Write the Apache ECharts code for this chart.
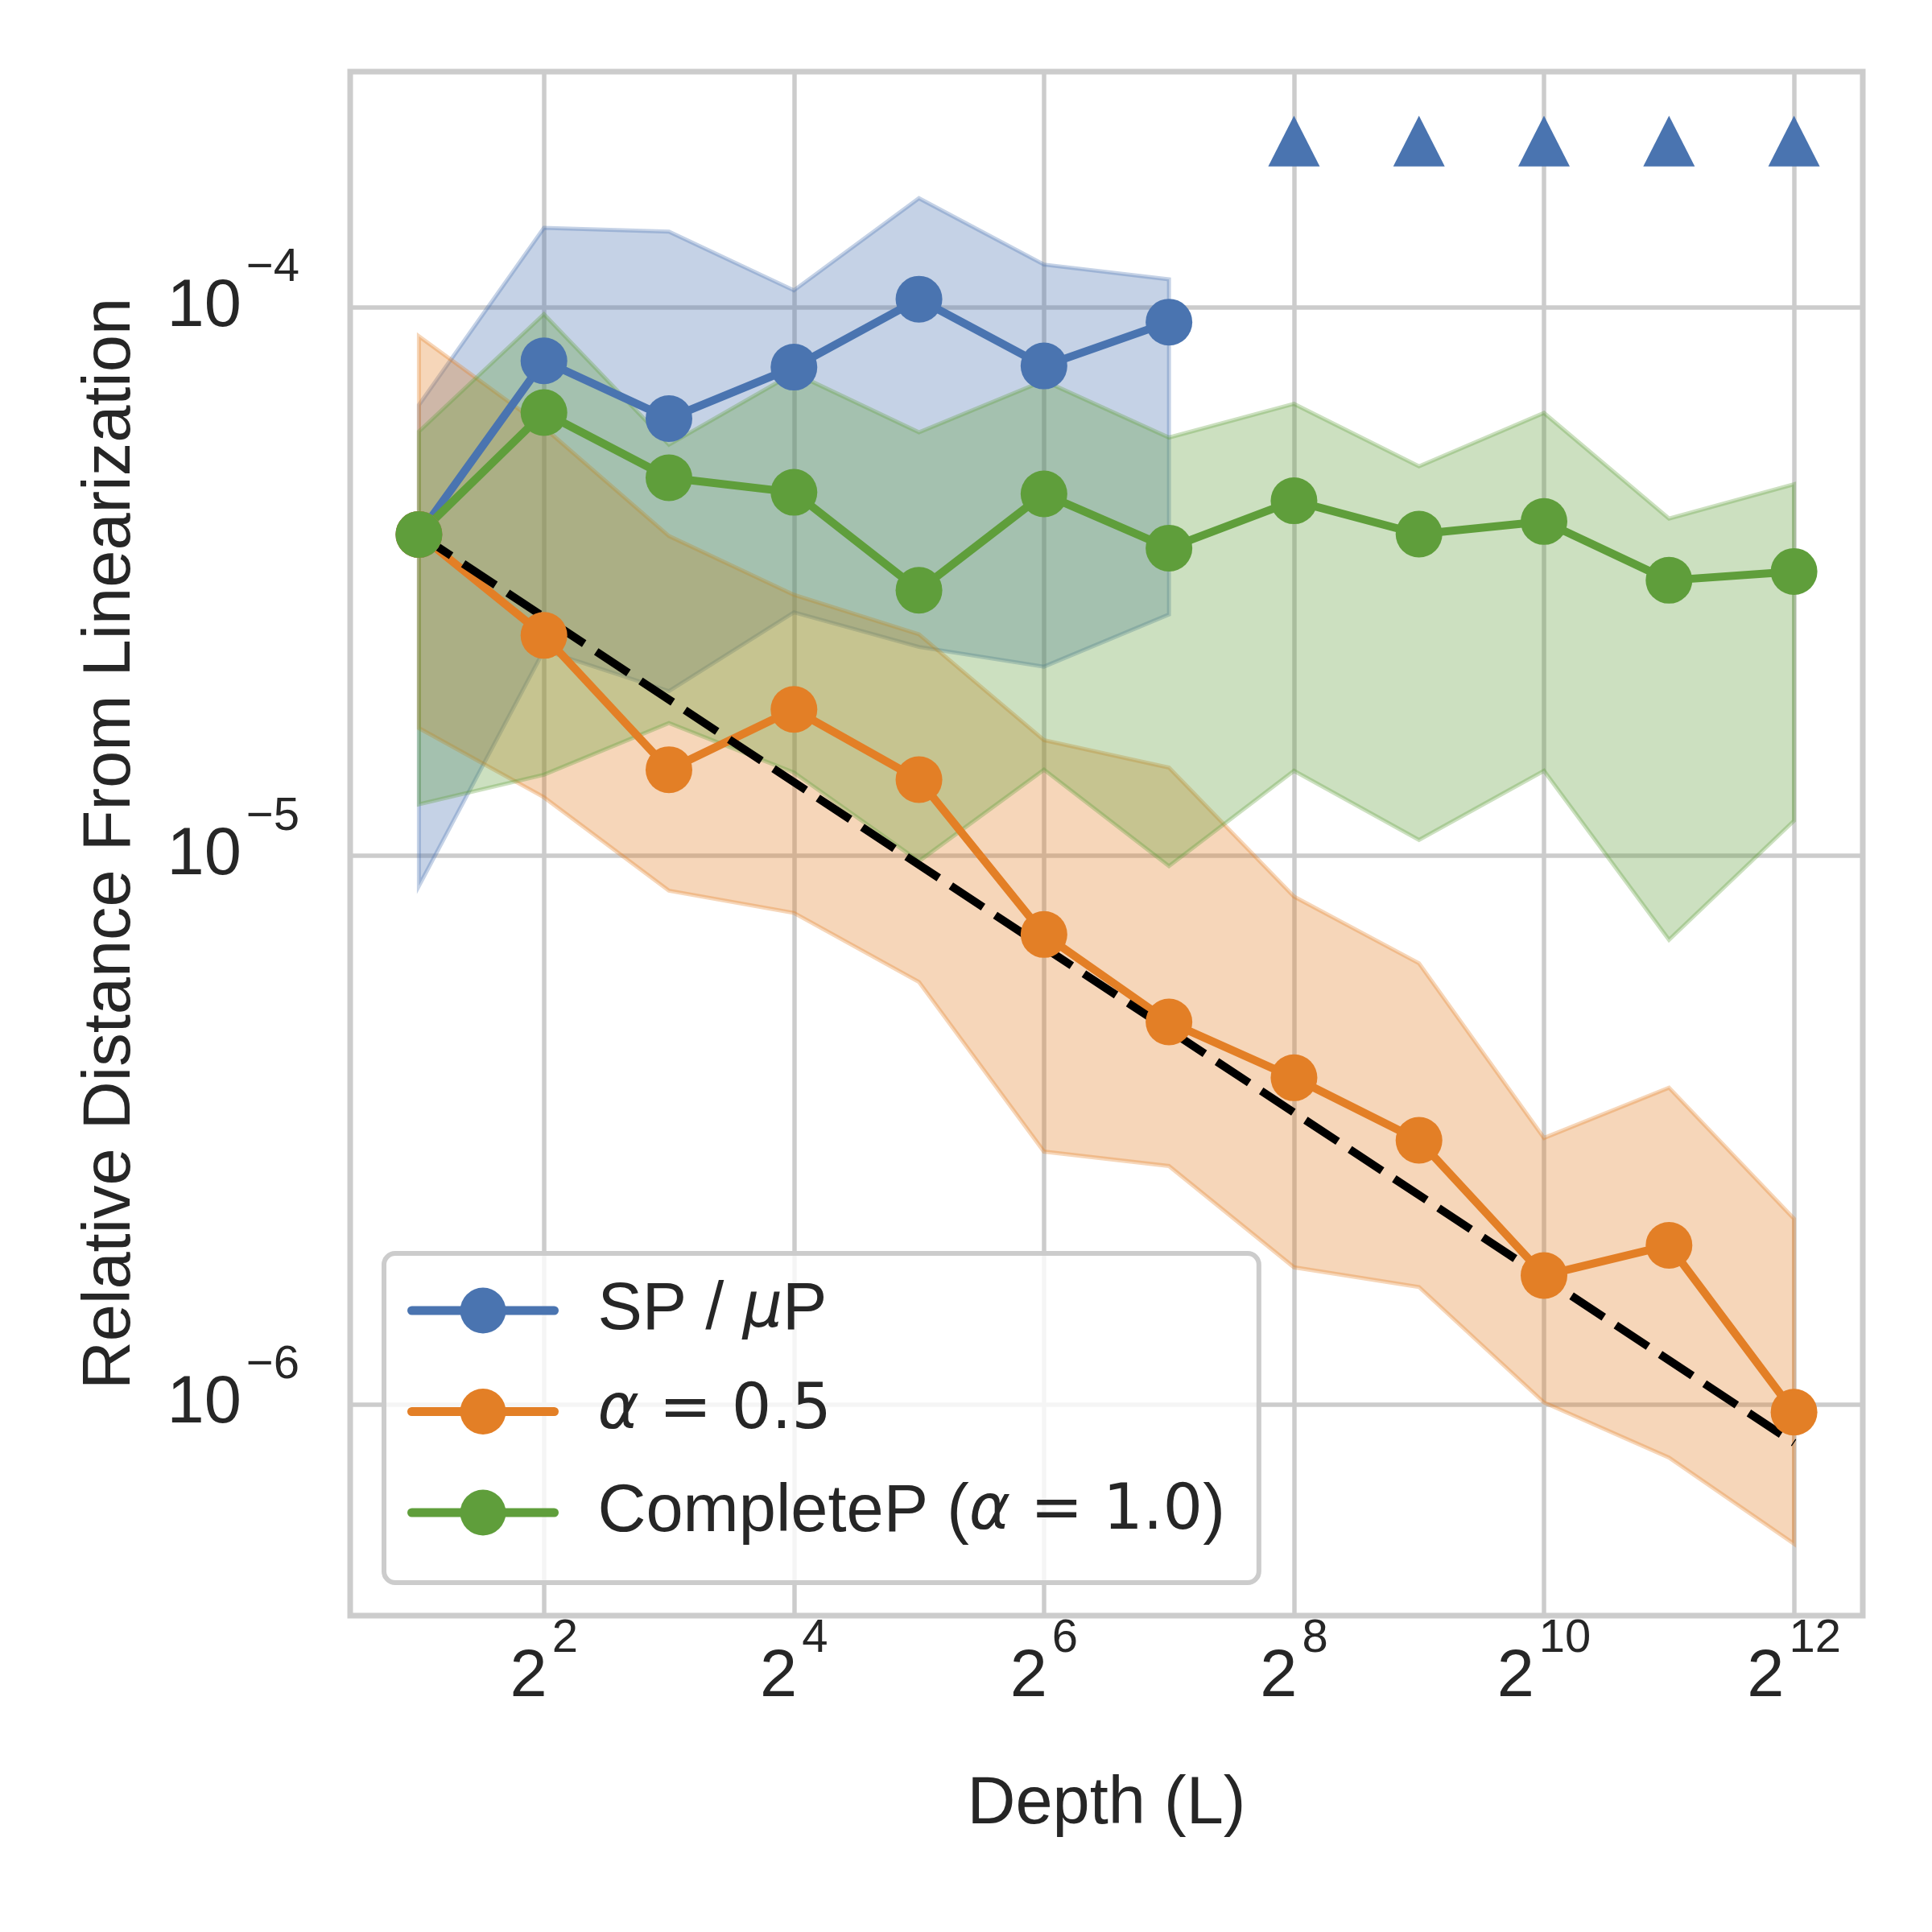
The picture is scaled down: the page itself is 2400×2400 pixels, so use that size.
<!DOCTYPE html>
<html>
<head>
<meta charset="utf-8">
<script src="https://cdn.jsdelivr.net/npm/echarts@6/dist/echarts.min.js"></script>
<style>html,body{margin:0;padding:0;background:#fff}#c{width:2400px;height:2400px}</style>
</head>
<body>
<div id="c"></div>
<script>
// ---- data ----
const depths = [2, 4, 8, 16, 32, 64, 128, 256, 512, 1024, 2048, 4096];

const spMean  = [3.855e-5, 7.99e-5, 6.27e-5, 7.78e-5, 1.035e-4, 7.82e-5, 9.40e-5];
const spUpper = [6.64e-5, 1.396e-4, 1.374e-4, 1.074e-4, 1.581e-4, 1.197e-4, 1.125e-4];
const spLower = [8.82e-6, 2.371e-5, 1.997e-5, 2.780e-5, 2.404e-5, 2.213e-5, 2.754e-5];
const spDivergedDepths = [256, 512, 1024, 2048, 4096];
const spDivergedMarker = 2.01e-4;

const halfMean  = [3.855e-5, 2.523e-5, 1.436e-5, 1.849e-5, 1.377e-5, 7.19e-6, 4.98e-6, 3.94e-6, 3.03e-6, 1.718e-6, 1.950e-6, 9.68e-7];
const halfUpper = [8.86e-5, 6.04e-5, 3.83e-5, 2.992e-5, 2.535e-5, 1.626e-5, 1.449e-5, 8.43e-6, 6.37e-6, 3.06e-6, 3.78e-6, 2.18e-6];
const halfLower = [1.710e-5, 1.279e-5, 8.64e-6, 7.87e-6, 5.89e-6, 2.89e-6, 2.72e-6, 1.778e-6, 1.637e-6, 1.008e-6, 8.0e-7, 5.57e-7];

const cpMean  = [3.855e-5, 6.43e-5, 4.89e-5, 4.60e-5, 3.05e-5, 4.57e-5, 3.64e-5, 4.44e-5, 3.86e-5, 4.07e-5, 3.18e-5, 3.30e-5];
const cpUpper = [5.94e-5, 9.72e-5, 5.62e-5, 7.59e-5, 5.92e-5, 7.35e-5, 5.79e-5, 6.67e-5, 5.13e-5, 6.42e-5, 4.12e-5, 4.76e-5];
const cpLower = [1.242e-5, 1.406e-5, 1.746e-5, 1.419e-5, 9.78e-6, 1.436e-5, 9.58e-6, 1.429e-5, 1.069e-5, 1.429e-5, 7.03e-6, 1.159e-5];

const refDepths = [2, 4096];
const refValues = [3.855e-5, 8.51e-7];

const seriesNames = ['SP / μP', 'α = 0.5', 'CompleteP (α = 1.0)'];
const xLabel = 'Depth (L)';
const yLabel = 'Relative Distance From Linearization';

// ---- styles ----
const C_BLUE = '#4a74b0', C_ORANGE = '#e37f26', C_GREEN = '#5f9e3b';
const FILL_A = 0.32;
function rgba(hex, a) {
  const n = parseInt(hex.slice(1), 16);
  return 'rgba(' + ((n >> 16) & 255) + ',' + ((n >> 8) & 255) + ',' + (n & 255) + ',' + a + ')';
}
const lx = d => Math.log2(d);
function pairs(ds, vs) { return vs.map((v, i) => [lx(ds[i]), v]); }

function band(name, ds, lo, hi, color) {
  const xs = lo.map((_, i) => lx(ds[i]));
  return {
    type: 'custom', name: name, coordinateSystem: 'cartesian2d', silent: true,
    data: [[xs[0], hi[0]]],
    renderItem: function (params, api) {
      const pts = [];
      for (let i = 0; i < xs.length; i++) pts.push(api.coord([xs[i], hi[i]]));
      for (let i = xs.length - 1; i >= 0; i--) pts.push(api.coord([xs[i], lo[i]]));
      return {
        type: 'polygon', shape: { points: pts },
        style: { fill: rgba(color, FILL_A), stroke: rgba(color, FILL_A), lineWidth: 5 }
      };
    }
  };
}
function lineSeries(name, ds, vs, color) {
  return {
    type: 'line', name: name, data: pairs(ds, vs),
    symbol: 'circle', symbolSize: 58, showSymbol: true,
    itemStyle: { color: color, borderWidth: 0, opacity: 1 },
    lineStyle: { color: color, width: 10, cap: 'round', join: 'round' },
    emphasis: { disabled: true }
  };
}

const TXT = '#262626';
const TICK_FONT = 'Liberation Sans';
const tickRich = {
  b: { fontFamily: TICK_FONT, fontSize: 83, color: TXT, lineHeight: 83, verticalAlign: 'bottom' },
  s: { fontFamily: TICK_FONT, fontSize: 58, color: TXT, lineHeight: 58, padding: [0, 0, 61, 6], verticalAlign: 'bottom' }
};
const legendRich = {
  n: { fontFamily: 'Liberation Sans', fontSize: 83, color: TXT, lineHeight: 90 },
  i: { fontFamily: 'DejaVu Sans', fontStyle: 'italic', fontSize: 78, color: TXT, lineHeight: 90 },
  m: { fontFamily: 'DejaVu Sans', fontSize: 78, color: TXT, lineHeight: 90 }
};
const legendText = {};
legendText[seriesNames[0]] = '{n|SP / }{i|μ}{n|P}';
legendText[seriesNames[1]] = '{i|α}{m| = 0.5}';
legendText[seriesNames[2]] = '{n|CompleteP (}{i|α}{m| = 1.0}{n|)}';

const chart = echarts.init(document.getElementById('c'), null, { renderer: 'canvas' });
chart.setOption({
  animation: false,
  backgroundColor: '#ffffff',
  grid: { left: 435, right: 86, top: 89, bottom: 393, show: true, borderColor: '#cccccc', borderWidth: 7, backgroundColor: 'transparent' },
  xAxis: {
    type: 'value', min: 0.45, max: 12.55,
    axisLine: { show: false }, axisTick: { show: false },
    splitLine: { show: true, lineStyle: { color: '#cccccc', width: 5.5 } },
    axisLabel: {
      margin: 36, showMinLabel: false, showMaxLabel: false,
      formatter: v => '{b|2}{s|' + Math.round(v) + '}', rich: tickRich
    },
    name: xLabel, nameLocation: 'middle', nameGap: 194,
    nameTextStyle: { fontFamily: 'Liberation Sans', fontSize: 83, color: TXT }
  },
  yAxis: {
    type: 'log', logBase: 10, min: 4.12e-7, max: 2.69e-4,
    axisLine: { show: false }, axisTick: { show: false },
    splitLine: { show: true, lineStyle: { color: '#cccccc', width: 5.5 } },
    minorSplitLine: { show: false },
    axisLabel: {
      margin: 63, showMinLabel: false, showMaxLabel: false,
      formatter: v => '{b|10}{s|\u2212' + Math.round(-Math.log10(v)) + '}', rich: tickRich
    },
    name: yLabel, nameLocation: 'middle', nameGap: 255,
    nameTextStyle: { fontFamily: 'Liberation Sans', fontSize: 83, color: TXT }
  },
  legend: {
    data: seriesNames, orient: 'vertical', left: 477, top: 1557,
    itemWidth: 177, itemHeight: 71, itemGap: 35.5,
    padding: [26, 42, 42, 29],
    backgroundColor: 'rgba(255,255,255,0.8)', borderColor: '#cccccc', borderWidth: 6, borderRadius: 14,
    lineStyle: { width: 11, cap: 'round' },
    formatter: name => legendText[name],
    textStyle: { fontFamily: 'Liberation Sans', fontSize: 83, color: TXT, lineHeight: 90, padding: [0, 0, 0, 49], rich: legendRich },
    selectedMode: false
  },
  series: [
    band('band-sp', depths, spLower, spUpper, C_BLUE),
    band('band-half', depths, halfLower, halfUpper, C_ORANGE),
    band('band-cp', depths, cpLower, cpUpper, C_GREEN),
    lineSeries(seriesNames[0], depths, spMean, C_BLUE),
    lineSeries(seriesNames[1], depths, halfMean, C_ORANGE),
    lineSeries(seriesNames[2], depths, cpMean, C_GREEN),
    {
      type: 'scatter', name: 'diverged', data: spDivergedDepths.map(d => [lx(d), spDivergedMarker]),
      symbol: 'triangle', symbolSize: [64, 63], itemStyle: { color: C_BLUE, opacity: 1 }, silent: true
    },
    {
      type: 'line', name: 'reference', data: pairs(refDepths, refValues), symbol: 'none', silent: true,
      lineStyle: { color: '#000000', width: 10, type: [48, 18] }
    }
  ]
});
</script>
</body>
</html>
